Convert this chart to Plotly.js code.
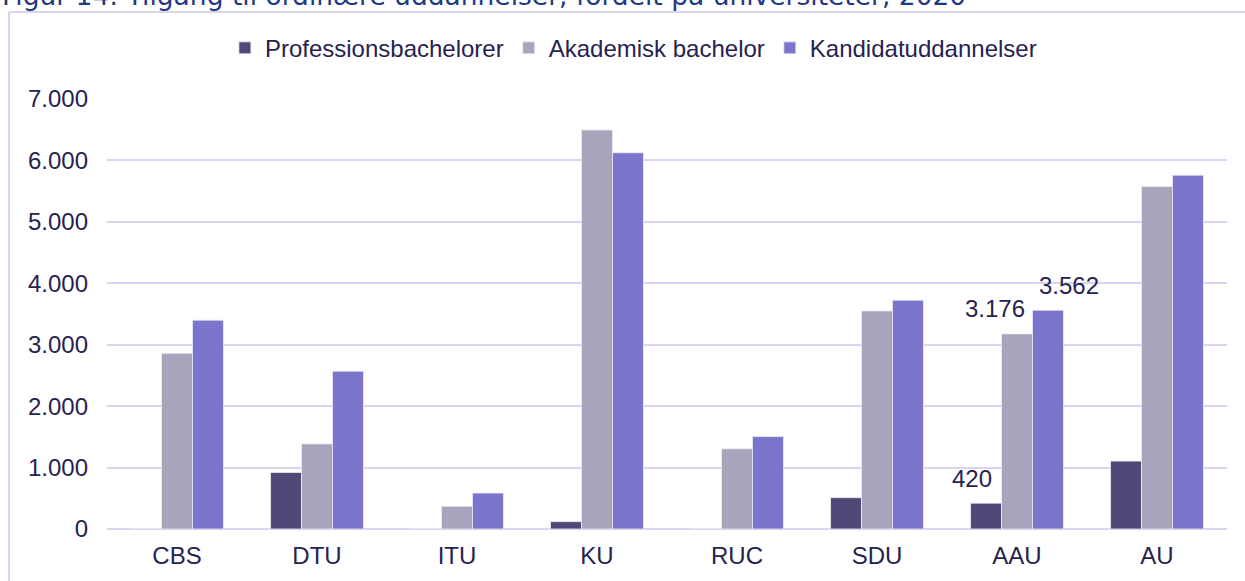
<!DOCTYPE html>
<html>
<head>
<meta charset="utf-8">
<script src="https://cdn.plot.ly/plotly-3.0.1.min.js"></script>
<style>html,body{margin:0;padding:0;background:#fff;}#chart{width:1245px;height:581px;}</style>
</head>
<body>
<div id="chart"></div>
<script>
const categories = ["CBS", "DTU", "ITU", "KU", "RUC", "SDU", "AAU", "AU"];
const seriesNames = ["Professionsbachelorer", "Akademisk bachelor", "Kandidatuddannelser"];
const professionsbachelorer = [0, 920, 0, 120, 0, 510, 420, 1105];
const akademiskBachelor = [2860, 1385, 370, 6495, 1305, 3550, 3176, 5575];
const kandidatuddannelser = [3400, 2570, 585, 6125, 1505, 3725, 3562, 5760];
const yTicks = [0, 1000, 2000, 3000, 4000, 5000, 6000, 7000];
const titleText = "Figur 14: Tilgang til ordinære uddannelser, fordelt på universiteter, 2020";

const colors = ["#4f4978", "#a8a4bc", "#7b75cb"];
const textColor = "#27224f";
const fontFam = "Liberation Sans, Arial, sans-serif";
const series = [professionsbachelorer, akademiskBachelor, kandidatuddannelser];

const traces = series.map((vals, i) => ({
  type: "bar",
  name: seriesNames[i],
  x: categories,
  y: vals,
  marker: {color: colors[i], line: {color: "#eeecf8", width: 0.8}},
  hoverinfo: "x+y+name"
}));

function fmt(v) { return String(v).replace(/\B(?=(\d{3})+(?!\d))/g, "."); }

// labelled values for AAU
const aauIdx = categories.indexOf("AAU");
const labelSpecs = [
  {vals: professionsbachelorer, xshift: -45},
  {vals: akademiskBachelor, xshift: -22},
  {vals: kandidatuddannelser, xshift: 52}
];
const annotations = labelSpecs.map(s => ({
  x: categories[aauIdx], y: s.vals[aauIdx], xref: "x", yref: "y",
  text: fmt(s.vals[aauIdx]), showarrow: false,
  xshift: s.xshift, yshift: 25, yanchor: "middle", xanchor: "center",
  font: {family: fontFam, size: 24, color: textColor}
}));
annotations.push({
  xref: "paper", yref: "paper", x: -0.0955, y: 1.2, xanchor: "left", yanchor: "bottom",
  yshift: 0, text: titleText, showarrow: false,
  font: {family: "DejaVu Sans, Verdana, sans-serif", size: 26.5, color: "#1f3a85"}
});

const layout = {
  width: 1245, height: 581,
  margin: {l: 107, r: 18, t: 99, b: 52, pad: 0},
  paper_bgcolor: "#ffffff", plot_bgcolor: "#ffffff",
  font: {family: fontFam, size: 24, color: textColor},
  separators: ",.",
  barmode: "group", bargap: 0.336, bargroupgap: 0,
  showlegend: true,
  legend: {orientation: "h", x: 0.47, xanchor: "center", y: 1.118, yanchor: "middle",
           font: {family: fontFam, size: 24, color: textColor}, itemwidth: 30, tracegroupgap: 0,
           bgcolor: "rgba(0,0,0,0)"},
  xaxis: {type: "category", showgrid: false, zeroline: false, showline: false, ticks: "",
          tickfont: {family: fontFam, size: 24, color: textColor}, ticklabelstandoff: 10},
  yaxis: {range: [0, 7000], tickvals: yTicks, ticktext: yTicks.map(fmt), showgrid: true,
          gridcolor: "#d9d5f0", gridwidth: 2, zeroline: true, zerolinecolor: "#d9d5f0", zerolinewidth: 2,
          showline: false, ticks: "", tickfont: {family: fontFam, size: 24, color: textColor},
          ticklabelstandoff: 18},
  shapes: [
    {type: "line", xref: "paper", yref: "paper", x0: -0.0875, x1: 1.02, y0: 1.2023, y1: 1.2023,
     line: {color: "#d9d5f0", width: 2}},
    {type: "line", xref: "paper", yref: "paper", x0: -0.0875, x1: -0.0875, y0: 1.2023, y1: -0.13,
     line: {color: "#d9d5f0", width: 2}}
  ],
  annotations: annotations
};

Plotly.newPlot("chart", traces, layout, {displayModeBar: false, responsive: false});
</script>
</body>
</html>
